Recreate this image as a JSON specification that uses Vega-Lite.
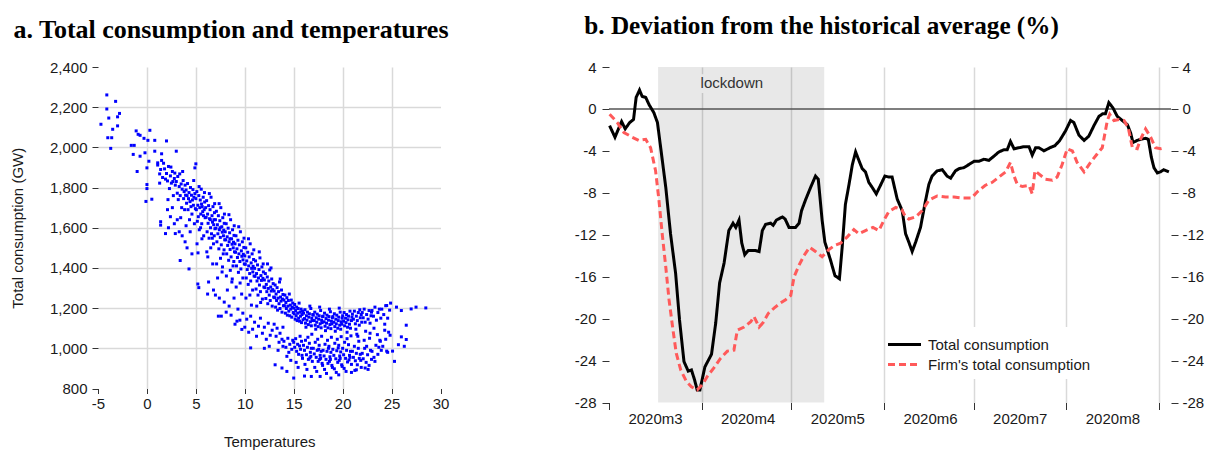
{
  "$schema": "https://vega.github.io/schema/vega-lite/v6.json",
  "background": "white",
  "padding": {"left": 10, "top": 13, "right": 0, "bottom": 0},
  "autosize": {"type": "pad"},
  "bounds": "flush",
  "spacing": 168,
  "config": {
    "view": {"stroke": null},
    "font": "Liberation Sans",
    "axis": {"labelFont": "Liberation Sans", "titleFont": "Liberation Sans", "labelFontSize": 15, "titleFontSize": 15, "titleFontWeight": "normal", "labelColor": "#1a1a1a", "titleColor": "#1a1a1a", "domain": false, "tickColor": "#333333", "tickWidth": 1, "gridColor": "#d9d9d9", "gridWidth": 1.5, "labelFlush": false, "labelOverlap": false, "labelBound": false},
    "title": {"font": "Liberation Serif", "fontWeight": "bold", "color": "#000000", "anchor": "start", "frame": "bounds", "baseline": "alphabetic"},
    "legend": {"labelFont": "Liberation Sans", "labelFontSize": 15, "labelColor": "#1a1a1a", "labelLimit": 400}
  },
  "datasets": {
    "scatter": [
      {"temp":-4.1,"gw":2261},{"temp":-3.2,"gw":2229},{"temp":-4.1,"gw":2191},{"temp":-3.9,"gw":2146},{"temp":-3.0,"gw":2152},{"temp":-2.8,"gw":2169},{"temp":-4.7,"gw":2115},{"temp":-3.5,"gw":2090},{"temp":-3.0,"gw":2107},{"temp":-4.0,"gw":2048},{"temp":-3.6,"gw":2048},{"temp":-3.7,"gw":1995},
      {"temp":-1.6,"gw":2010},{"temp":-1.3,"gw":2010},{"temp":-1.1,"gw":2082},{"temp":-0.9,"gw":2065},{"temp":-0.7,"gw":2060},{"temp":0.3,"gw":2085},{"temp":-0.3,"gw":2045},{"temp":0.1,"gw":2035},{"temp":0.8,"gw":2035},{"temp":-1.4,"gw":1965},{"temp":-0.2,"gw":1973},{"temp":-0.7,"gw":1956},{"temp":-1.0,"gw":1880},{"temp":0.0,"gw":1898},{"temp":0.2,"gw":1931},{"temp":0.0,"gw":1815},{"temp":0.0,"gw":1795},{"temp":-0.1,"gw":1731},{"temp":0.5,"gw":1742},{"temp":0.8,"gw":1981},{"temp":2.0,"gw":2032},{"temp":3.0,"gw":1981},{"temp":1.5,"gw":1968},{"temp":1.1,"gw":1923},{"temp":1.3,"gw":1822},{"temp":1.4,"gw":1630},{"temp":1.4,"gw":1613},{"temp":1.9,"gw":1571},{"temp":2.9,"gw":1571},{"temp":3.4,"gw":1437},{"temp":5.0,"gw":1918},{"temp":4.9,"gw":1898},{"temp":5.2,"gw":1320},{"temp":5.3,"gw":1302},{"temp":4.3,"gw":1395},{"temp":6.2,"gw":1270},{"temp":7.3,"gw":1160},{"temp":9.0,"gw":1120},{"temp":9.7,"gw":1094},{"temp":10.6,"gw":1002},{"temp":13.1,"gw":918},{"temp":13.8,"gw":902},{"temp":14.3,"gw":885},{"temp":15.0,"gw":852},{"temp":16.1,"gw":862},{"temp":16.8,"gw":860},{"temp":17.7,"gw":860},{"temp":18.8,"gw":852},{"temp":19.6,"gw":868},{"temp":20.9,"gw":880},{"temp":21.4,"gw":893},{"temp":22.3,"gw":902},{"temp":26.5,"gw":1044},{"temp":26.3,"gw":1010},{"temp":25.7,"gw":1018},{"temp":25.3,"gw":935},{"temp":25.1,"gw":986},{"temp":24.5,"gw":986},{"temp":27.0,"gw":1196},{"temp":27.5,"gw":1205},{"temp":28.5,"gw":1201},{"temp":26.5,"gw":1115},{"temp":26.0,"gw":1057},{"temp":25.5,"gw":1205},{"temp":24.5,"gw":1213},{"temp":26.0,"gw":1188},
      {"temp":2.1,"gw":1690},{"temp":2.4,"gw":1655},{"temp":2.8,"gw":1620},{"temp":2.2,"gw":1600},{"temp":2.6,"gw":1700},{"temp":3.1,"gw":1640},{"temp":3.3,"gw":1580},{"temp":3.6,"gw":1560},{"temp":3.9,"gw":1530},{"temp":4.1,"gw":1500},{"temp":4.6,"gw":1470},{"temp":4.0,"gw":1610},
      {"temp":6.3,"gw":1330},{"temp":6.8,"gw":1290},{"temp":7.0,"gw":1265},{"temp":7.4,"gw":1250},{"temp":7.6,"gw":1160},{"temp":7.9,"gw":1230},{"temp":8.1,"gw":1180},{"temp":8.4,"gw":1210},{"temp":8.6,"gw":1165},{"temp":8.9,"gw":1250},{"temp":9.2,"gw":1135},{"temp":9.3,"gw":1195},{"temp":9.5,"gw":1140},{"temp":9.8,"gw":1175},{"temp":10.0,"gw":1105},{"temp":10.2,"gw":1145},{"temp":10.4,"gw":1080},{"temp":10.6,"gw":1160},{"temp":10.8,"gw":1095},{"temp":11.0,"gw":1130},{"temp":11.2,"gw":1060},{"temp":11.4,"gw":1110},{"temp":11.6,"gw":1150},{"temp":11.8,"gw":1075},{"temp":12.0,"gw":1105},{"temp":12.2,"gw":1045},{"temp":12.4,"gw":1125},{"temp":12.6,"gw":1065},{"temp":12.8,"gw":1090},{"temp":13.0,"gw":1120},{"temp":13.3,"gw":1100},{"temp":13.6,"gw":1075},{"temp":13.9,"gw":1105},{"temp":12.0,"gw":1000},{"temp":12.5,"gw":1010},
      {"temp":1.1,"gw":1912},{"temp":1.3,"gw":1868},{"temp":1.5,"gw":1935},{"temp":1.6,"gw":1850},{"temp":1.8,"gw":1893},{"temp":1.9,"gw":1842},{"temp":1.4,"gw":1890},{"temp":1.7,"gw":1921},
      {"temp":2.0,"gw":1870},{"temp":2.1,"gw":1833},{"temp":2.2,"gw":1905},{"temp":2.3,"gw":1795},{"temp":2.4,"gw":1858},{"temp":2.5,"gw":1822},{"temp":2.6,"gw":1880},{"temp":2.7,"gw":1760},{"temp":2.8,"gw":1845},{"temp":2.9,"gw":1812},{"temp":2.15,"gw":1740},{"temp":2.45,"gw":1902},{"temp":2.65,"gw":1830},{"temp":2.85,"gw":1872},
      {"temp":3.0,"gw":1830},{"temp":3.1,"gw":1772},{"temp":3.15,"gw":1855},{"temp":3.2,"gw":1740},{"temp":3.3,"gw":1805},{"temp":3.35,"gw":1868},{"temp":3.4,"gw":1760},{"temp":3.5,"gw":1818},{"temp":3.55,"gw":1700},{"temp":3.6,"gw":1792},{"temp":3.7,"gw":1835},{"temp":3.75,"gw":1745},{"temp":3.8,"gw":1780},{"temp":3.85,"gw":1690},{"temp":3.9,"gw":1812},{"temp":3.95,"gw":1762},{"temp":3.45,"gw":1650},{"temp":3.65,"gw":1880},
      {"temp":4.0,"gw":1788},{"temp":4.05,"gw":1722},{"temp":4.1,"gw":1760},{"temp":4.15,"gw":1820},{"temp":4.2,"gw":1690},{"temp":4.25,"gw":1745},{"temp":4.3,"gw":1775},{"temp":4.35,"gw":1640},{"temp":4.4,"gw":1730},{"temp":4.45,"gw":1800},{"temp":4.5,"gw":1705},{"temp":4.55,"gw":1762},{"temp":4.6,"gw":1668},{"temp":4.65,"gw":1738},{"temp":4.7,"gw":1790},{"temp":4.75,"gw":1712},{"temp":4.8,"gw":1752},{"temp":4.85,"gw":1620},{"temp":4.9,"gw":1770},{"temp":4.95,"gw":1695},{"temp":4.42,"gw":1580},{"temp":4.78,"gw":1835},
      {"temp":5.0,"gw":1745},{"temp":5.05,"gw":1690},{"temp":5.1,"gw":1780},{"temp":5.15,"gw":1632},{"temp":5.2,"gw":1712},{"temp":5.25,"gw":1655},{"temp":5.3,"gw":1760},{"temp":5.35,"gw":1590},{"temp":5.4,"gw":1700},{"temp":5.45,"gw":1738},{"temp":5.5,"gw":1668},{"temp":5.55,"gw":1792},{"temp":5.6,"gw":1620},{"temp":5.65,"gw":1705},{"temp":5.7,"gw":1680},{"temp":5.75,"gw":1752},{"temp":5.8,"gw":1560},{"temp":5.85,"gw":1690},{"temp":5.9,"gw":1728},{"temp":5.95,"gw":1650},{"temp":5.12,"gw":1520},{"temp":5.33,"gw":1805},{"temp":5.48,"gw":1600},{"temp":5.62,"gw":1545},{"temp":5.78,"gw":1660},{"temp":5.88,"gw":1775},{"temp":5.22,"gw":1475},{"temp":5.58,"gw":1718},
      {"temp":6.0,"gw":1700},{"temp":6.05,"gw":1652},{"temp":6.1,"gw":1735},{"temp":6.15,"gw":1580},{"temp":6.2,"gw":1668},{"temp":6.25,"gw":1622},{"temp":6.3,"gw":1710},{"temp":6.35,"gw":1548},{"temp":6.4,"gw":1645},{"temp":6.45,"gw":1690},{"temp":6.5,"gw":1600},{"temp":6.55,"gw":1752},{"temp":6.6,"gw":1570},{"temp":6.65,"gw":1660},{"temp":6.7,"gw":1628},{"temp":6.75,"gw":1705},{"temp":6.8,"gw":1520},{"temp":6.85,"gw":1640},{"temp":6.9,"gw":1675},{"temp":6.95,"gw":1595},{"temp":6.12,"gw":1480},{"temp":6.38,"gw":1770},{"temp":6.52,"gw":1500},{"temp":6.68,"gw":1548},{"temp":6.82,"gw":1615},{"temp":6.92,"gw":1720},{"temp":6.22,"gw":1455},{"temp":6.48,"gw":1640},{"temp":6.72,"gw":1420},{"temp":6.88,"gw":1560},
      {"temp":7.0,"gw":1640},{"temp":7.05,"gw":1598},{"temp":7.1,"gw":1682},{"temp":7.15,"gw":1530},{"temp":7.2,"gw":1615},{"temp":7.25,"gw":1570},{"temp":7.3,"gw":1660},{"temp":7.35,"gw":1495},{"temp":7.4,"gw":1590},{"temp":7.45,"gw":1635},{"temp":7.5,"gw":1552},{"temp":7.55,"gw":1700},{"temp":7.6,"gw":1515},{"temp":7.65,"gw":1605},{"temp":7.7,"gw":1578},{"temp":7.75,"gw":1650},{"temp":7.8,"gw":1470},{"temp":7.85,"gw":1588},{"temp":7.9,"gw":1622},{"temp":7.95,"gw":1540},{"temp":7.12,"gw":1420},{"temp":7.38,"gw":1720},{"temp":7.52,"gw":1448},{"temp":7.68,"gw":1380},{"temp":7.82,"gw":1560},{"temp":7.92,"gw":1668},{"temp":7.22,"gw":1350},{"temp":7.48,"gw":1600},{"temp":7.72,"gw":1405},{"temp":7.88,"gw":1490},
      {"temp":8.0,"gw":1580},{"temp":8.05,"gw":1540},{"temp":8.1,"gw":1620},{"temp":8.15,"gw":1470},{"temp":8.2,"gw":1555},{"temp":8.25,"gw":1512},{"temp":8.3,"gw":1598},{"temp":8.35,"gw":1438},{"temp":8.4,"gw":1530},{"temp":8.45,"gw":1575},{"temp":8.5,"gw":1492},{"temp":8.55,"gw":1640},{"temp":8.6,"gw":1455},{"temp":8.65,"gw":1545},{"temp":8.7,"gw":1518},{"temp":8.75,"gw":1590},{"temp":8.8,"gw":1410},{"temp":8.85,"gw":1528},{"temp":8.9,"gw":1562},{"temp":8.95,"gw":1480},{"temp":8.12,"gw":1360},{"temp":8.38,"gw":1665},{"temp":8.52,"gw":1388},{"temp":8.68,"gw":1330},{"temp":8.82,"gw":1500},{"temp":8.92,"gw":1610},{"temp":8.22,"gw":1290},{"temp":8.48,"gw":1545},{"temp":8.72,"gw":1345},{"temp":8.88,"gw":1432},
      {"temp":9.0,"gw":1520},{"temp":9.05,"gw":1478},{"temp":9.1,"gw":1560},{"temp":9.15,"gw":1410},{"temp":9.2,"gw":1495},{"temp":9.25,"gw":1452},{"temp":9.3,"gw":1538},{"temp":9.35,"gw":1378},{"temp":9.4,"gw":1470},{"temp":9.45,"gw":1515},{"temp":9.5,"gw":1432},{"temp":9.55,"gw":1580},{"temp":9.6,"gw":1395},{"temp":9.65,"gw":1485},{"temp":9.7,"gw":1458},{"temp":9.75,"gw":1530},{"temp":9.8,"gw":1350},{"temp":9.85,"gw":1468},{"temp":9.9,"gw":1502},{"temp":9.95,"gw":1420},{"temp":9.12,"gw":1305},{"temp":9.38,"gw":1605},{"temp":9.52,"gw":1325},{"temp":9.68,"gw":1270},{"temp":9.82,"gw":1440},{"temp":9.92,"gw":1548},
      {"temp":10.0,"gw":1460},{"temp":10.05,"gw":1418},{"temp":10.1,"gw":1500},{"temp":10.15,"gw":1350},{"temp":10.2,"gw":1435},{"temp":10.25,"gw":1392},{"temp":10.3,"gw":1478},{"temp":10.35,"gw":1318},{"temp":10.4,"gw":1410},{"temp":10.45,"gw":1455},{"temp":10.5,"gw":1372},{"temp":10.55,"gw":1520},{"temp":10.6,"gw":1335},{"temp":10.65,"gw":1425},{"temp":10.7,"gw":1398},{"temp":10.75,"gw":1470},{"temp":10.8,"gw":1290},{"temp":10.85,"gw":1408},{"temp":10.9,"gw":1442},{"temp":10.95,"gw":1360},{"temp":10.12,"gw":1250},{"temp":10.38,"gw":1545},{"temp":10.52,"gw":1265},{"temp":10.68,"gw":1215},{"temp":10.82,"gw":1380},{"temp":10.92,"gw":1490},
      {"temp":11.0,"gw":1398},{"temp":11.05,"gw":1358},{"temp":11.1,"gw":1435},{"temp":11.15,"gw":1295},{"temp":11.2,"gw":1372},{"temp":11.25,"gw":1335},{"temp":11.3,"gw":1415},{"temp":11.35,"gw":1265},{"temp":11.4,"gw":1350},{"temp":11.45,"gw":1392},{"temp":11.5,"gw":1315},{"temp":11.55,"gw":1450},{"temp":11.6,"gw":1282},{"temp":11.65,"gw":1362},{"temp":11.7,"gw":1338},{"temp":11.75,"gw":1405},{"temp":11.8,"gw":1245},{"temp":11.85,"gw":1348},{"temp":11.9,"gw":1380},{"temp":11.95,"gw":1305},{"temp":11.22,"gw":1210},{"temp":11.48,"gw":1480},{"temp":11.62,"gw":1228},{"temp":11.88,"gw":1420},
      {"temp":12.0,"gw":1340},{"temp":12.05,"gw":1302},{"temp":12.1,"gw":1372},{"temp":12.15,"gw":1248},{"temp":12.2,"gw":1318},{"temp":12.25,"gw":1282},{"temp":12.3,"gw":1355},{"temp":12.35,"gw":1222},{"temp":12.4,"gw":1298},{"temp":12.45,"gw":1335},{"temp":12.5,"gw":1265},{"temp":12.55,"gw":1390},{"temp":12.6,"gw":1238},{"temp":12.65,"gw":1305},{"temp":12.7,"gw":1285},{"temp":12.75,"gw":1345},{"temp":12.8,"gw":1210},{"temp":12.85,"gw":1292},{"temp":12.9,"gw":1322},{"temp":12.95,"gw":1255},{"temp":12.32,"gw":1420},{"temp":12.68,"gw":1400},
      {"temp":13.0,"gw":1285},{"temp":13.05,"gw":1252},{"temp":13.1,"gw":1315},{"temp":13.15,"gw":1205},{"temp":13.2,"gw":1270},{"temp":13.25,"gw":1238},{"temp":13.3,"gw":1302},{"temp":13.35,"gw":1190},{"temp":13.4,"gw":1250},{"temp":13.45,"gw":1282},{"temp":13.5,"gw":1222},{"temp":13.55,"gw":1330},{"temp":13.6,"gw":1198},{"temp":13.65,"gw":1255},{"temp":13.7,"gw":1235},{"temp":13.75,"gw":1290},{"temp":13.8,"gw":1180},{"temp":13.85,"gw":1245},{"temp":13.9,"gw":1268},{"temp":13.95,"gw":1212},{"temp":13.62,"gw":1345},
      {"temp":14.0,"gw":1240},{"temp":14.05,"gw":1212},{"temp":14.1,"gw":1265},{"temp":14.15,"gw":1175},{"temp":14.2,"gw":1228},{"temp":14.25,"gw":1198},{"temp":14.3,"gw":1252},{"temp":14.35,"gw":1165},{"temp":14.4,"gw":1210},{"temp":14.45,"gw":1238},{"temp":14.5,"gw":1185},{"temp":14.55,"gw":1270},{"temp":14.6,"gw":1162},{"temp":14.65,"gw":1215},{"temp":14.7,"gw":1195},{"temp":14.75,"gw":1240},{"temp":14.8,"gw":1155},{"temp":14.85,"gw":1205},{"temp":14.9,"gw":1225},{"temp":14.95,"gw":1178},
      {"temp":15.0,"gw":1200},{"temp":15.05,"gw":1172},{"temp":15.1,"gw":1218},{"temp":15.15,"gw":1145},{"temp":15.2,"gw":1188},{"temp":15.25,"gw":1162},{"temp":15.3,"gw":1205},{"temp":15.35,"gw":1138},{"temp":15.4,"gw":1175},{"temp":15.45,"gw":1198},{"temp":15.5,"gw":1150},{"temp":15.55,"gw":1225},{"temp":15.6,"gw":1135},{"temp":15.65,"gw":1180},{"temp":15.7,"gw":1160},{"temp":15.75,"gw":1195},{"temp":15.8,"gw":1128},{"temp":15.85,"gw":1168},{"temp":15.9,"gw":1185},{"temp":15.95,"gw":1142},
      {"temp":16.0,"gw":1175},{"temp":16.1,"gw":1148},{"temp":16.15,"gw":1192},{"temp":16.2,"gw":1125},{"temp":16.3,"gw":1162},{"temp":16.35,"gw":1140},{"temp":16.4,"gw":1180},{"temp":16.5,"gw":1118},{"temp":16.55,"gw":1155},{"temp":16.6,"gw":1172},{"temp":16.7,"gw":1132},{"temp":16.75,"gw":1198},{"temp":16.8,"gw":1112},{"temp":16.85,"gw":1150},{"temp":16.9,"gw":1138},{"temp":16.95,"gw":1168},{"temp":16.25,"gw":1105},{"temp":16.65,"gw":1210},
      {"temp":17.0,"gw":1165},{"temp":17.1,"gw":1138},{"temp":17.15,"gw":1180},{"temp":17.2,"gw":1115},{"temp":17.3,"gw":1152},{"temp":17.35,"gw":1130},{"temp":17.4,"gw":1170},{"temp":17.5,"gw":1108},{"temp":17.55,"gw":1145},{"temp":17.6,"gw":1162},{"temp":17.7,"gw":1122},{"temp":17.75,"gw":1188},{"temp":17.8,"gw":1102},{"temp":17.85,"gw":1140},{"temp":17.9,"gw":1128},{"temp":17.95,"gw":1158},{"temp":17.25,"gw":1095},{"temp":17.65,"gw":1205},
      {"temp":18.0,"gw":1160},{"temp":18.1,"gw":1132},{"temp":18.15,"gw":1175},{"temp":18.2,"gw":1110},{"temp":18.3,"gw":1148},{"temp":18.35,"gw":1125},{"temp":18.4,"gw":1165},{"temp":18.5,"gw":1102},{"temp":18.55,"gw":1140},{"temp":18.6,"gw":1158},{"temp":18.7,"gw":1118},{"temp":18.75,"gw":1182},{"temp":18.8,"gw":1098},{"temp":18.85,"gw":1135},{"temp":18.9,"gw":1122},{"temp":18.95,"gw":1152},{"temp":18.25,"gw":1088},{"temp":18.65,"gw":1195},
      {"temp":19.0,"gw":1158},{"temp":19.1,"gw":1130},{"temp":19.15,"gw":1172},{"temp":19.2,"gw":1108},{"temp":19.3,"gw":1145},{"temp":19.35,"gw":1122},{"temp":19.4,"gw":1165},{"temp":19.5,"gw":1100},{"temp":19.55,"gw":1138},{"temp":19.6,"gw":1155},{"temp":19.7,"gw":1115},{"temp":19.75,"gw":1180},{"temp":19.8,"gw":1095},{"temp":19.85,"gw":1132},{"temp":19.9,"gw":1120},{"temp":19.95,"gw":1150},{"temp":19.25,"gw":1085},{"temp":19.65,"gw":1200},
      {"temp":20.0,"gw":1162},{"temp":20.1,"gw":1135},{"temp":20.15,"gw":1178},{"temp":20.2,"gw":1112},{"temp":20.3,"gw":1150},{"temp":20.35,"gw":1128},{"temp":20.4,"gw":1168},{"temp":20.5,"gw":1105},{"temp":20.55,"gw":1142},{"temp":20.6,"gw":1160},{"temp":20.7,"gw":1120},{"temp":20.75,"gw":1185},{"temp":20.8,"gw":1100},{"temp":20.9,"gw":1138},{"temp":20.95,"gw":1155},{"temp":20.45,"gw":1080},
      {"temp":21.0,"gw":1170},{"temp":21.1,"gw":1145},{"temp":21.2,"gw":1185},{"temp":21.3,"gw":1122},{"temp":21.4,"gw":1160},{"temp":21.5,"gw":1138},{"temp":21.6,"gw":1178},{"temp":21.7,"gw":1115},{"temp":21.8,"gw":1152},{"temp":21.9,"gw":1168},{"temp":21.35,"gw":1095},{"temp":21.75,"gw":1192},{"temp":21.55,"gw":1060},{"temp":21.95,"gw":1130},
      {"temp":22.0,"gw":1178},{"temp":22.1,"gw":1152},{"temp":22.2,"gw":1195},{"temp":22.3,"gw":1130},{"temp":22.45,"gw":1168},{"temp":22.6,"gw":1145},{"temp":22.7,"gw":1188},{"temp":22.8,"gw":1125},{"temp":22.9,"gw":1162},{"temp":22.95,"gw":1180},{"temp":22.35,"gw":1085},{"temp":22.75,"gw":1050},
      {"temp":23.0,"gw":1188},{"temp":23.15,"gw":1160},{"temp":23.3,"gw":1205},{"temp":23.45,"gw":1140},{"temp":23.6,"gw":1178},{"temp":23.75,"gw":1195},{"temp":23.9,"gw":1150},{"temp":23.2,"gw":1100},{"temp":23.55,"gw":1068},{"temp":23.85,"gw":1035},
      {"temp":24.0,"gw":1195},{"temp":24.2,"gw":1168},{"temp":24.4,"gw":1212},{"temp":24.6,"gw":1150},{"temp":24.8,"gw":1190},{"temp":24.3,"gw":1120},{"temp":24.7,"gw":1080},{"temp":24.9,"gw":1225},
      {"temp":13.2,"gw":1060},{"temp":13.5,"gw":1030},{"temp":13.8,"gw":1045},{"temp":13.4,"gw":990},{"temp":13.9,"gw":1010},
      {"temp":14.0,"gw":1035},{"temp":14.2,"gw":1005},{"temp":14.4,"gw":1050},{"temp":14.5,"gw":980},{"temp":14.6,"gw":1020},{"temp":14.8,"gw":995},{"temp":14.9,"gw":1040},{"temp":14.3,"gw":960},{"temp":14.7,"gw":940},
      {"temp":15.0,"gw":1030},{"temp":15.1,"gw":1005},{"temp":15.2,"gw":1048},{"temp":15.3,"gw":985},{"temp":15.4,"gw":1020},{"temp":15.5,"gw":970},{"temp":15.6,"gw":1012},{"temp":15.7,"gw":995},{"temp":15.8,"gw":1035},{"temp":15.9,"gw":950},{"temp":15.25,"gw":930},{"temp":15.65,"gw":1060},{"temp":15.45,"gw":905},{"temp":15.85,"gw":965},
      {"temp":16.0,"gw":1015},{"temp":16.1,"gw":990},{"temp":16.2,"gw":1040},{"temp":16.3,"gw":968},{"temp":16.4,"gw":1005},{"temp":16.5,"gw":945},{"temp":16.6,"gw":1025},{"temp":16.7,"gw":980},{"temp":16.8,"gw":1000},{"temp":16.9,"gw":935},{"temp":16.15,"gw":920},{"temp":16.45,"gw":1055},{"temp":16.65,"gw":952},{"temp":16.85,"gw":1070},{"temp":16.35,"gw":895},{"temp":16.75,"gw":960},
      {"temp":17.0,"gw":1000},{"temp":17.1,"gw":972},{"temp":17.2,"gw":1030},{"temp":17.3,"gw":955},{"temp":17.4,"gw":990},{"temp":17.5,"gw":935},{"temp":17.6,"gw":1015},{"temp":17.7,"gw":965},{"temp":17.8,"gw":985},{"temp":17.9,"gw":925},{"temp":17.15,"gw":905},{"temp":17.45,"gw":1045},{"temp":17.65,"gw":945},{"temp":17.85,"gw":1060},{"temp":17.35,"gw":885},{"temp":17.75,"gw":950},{"temp":17.55,"gw":995},{"temp":17.95,"gw":915},
      {"temp":18.0,"gw":990},{"temp":18.1,"gw":962},{"temp":18.2,"gw":1020},{"temp":18.3,"gw":945},{"temp":18.4,"gw":985},{"temp":18.5,"gw":925},{"temp":18.6,"gw":1010},{"temp":18.7,"gw":958},{"temp":18.8,"gw":980},{"temp":18.9,"gw":915},{"temp":18.15,"gw":895},{"temp":18.45,"gw":1040},{"temp":18.65,"gw":935},{"temp":18.85,"gw":1055},{"temp":18.35,"gw":875},{"temp":18.75,"gw":945},{"temp":18.55,"gw":1000},{"temp":18.95,"gw":905},
      {"temp":19.0,"gw":995},{"temp":19.1,"gw":965},{"temp":19.2,"gw":1025},{"temp":19.3,"gw":948},{"temp":19.4,"gw":988},{"temp":19.5,"gw":930},{"temp":19.6,"gw":1015},{"temp":19.7,"gw":962},{"temp":19.8,"gw":982},{"temp":19.9,"gw":918},{"temp":19.15,"gw":898},{"temp":19.45,"gw":1045},{"temp":19.65,"gw":940},{"temp":19.85,"gw":1058},{"temp":19.35,"gw":880},{"temp":19.75,"gw":950},{"temp":19.55,"gw":1002},{"temp":19.95,"gw":910},
      {"temp":20.0,"gw":1000},{"temp":20.1,"gw":968},{"temp":20.2,"gw":1030},{"temp":20.3,"gw":950},{"temp":20.4,"gw":990},{"temp":20.5,"gw":932},{"temp":20.6,"gw":1018},{"temp":20.7,"gw":965},{"temp":20.8,"gw":985},{"temp":20.9,"gw":920},{"temp":20.15,"gw":900},{"temp":20.45,"gw":1048},{"temp":20.65,"gw":942},{"temp":20.85,"gw":1062},{"temp":20.35,"gw":885},{"temp":20.75,"gw":955},
      {"temp":21.0,"gw":985},{"temp":21.1,"gw":955},{"temp":21.2,"gw":1010},{"temp":21.3,"gw":938},{"temp":21.4,"gw":975},{"temp":21.5,"gw":918},{"temp":21.6,"gw":1000},{"temp":21.7,"gw":950},{"temp":21.8,"gw":970},{"temp":21.9,"gw":905},{"temp":21.25,"gw":890},{"temp":21.65,"gw":1035},{"temp":21.45,"gw":1070},{"temp":21.85,"gw":940},
      {"temp":22.0,"gw":975},{"temp":22.1,"gw":948},{"temp":22.25,"gw":1000},{"temp":22.4,"gw":930},{"temp":22.55,"gw":968},{"temp":22.7,"gw":915},{"temp":22.85,"gw":990},{"temp":22.95,"gw":945},{"temp":22.2,"gw":1040},{"temp":22.6,"gw":895},{"temp":22.8,"gw":1075},{"temp":22.45,"gw":1010},
      {"temp":23.0,"gw":985},{"temp":23.2,"gw":955},{"temp":23.4,"gw":1015},{"temp":23.6,"gw":970},{"temp":23.8,"gw":1040},{"temp":23.3,"gw":935},{"temp":23.7,"gw":1005},{"temp":23.95,"gw":990},
      {"temp":24.1,"gw":1010},{"temp":24.4,"gw":1045},{"temp":24.6,"gw":980},{"temp":24.85,"gw":1065},{"temp":24.3,"gw":1090}
    ],
    "lines": [
      {"date":"2020-03-01T05:00Z","series":"Total consumption","value":-1.6},
      {"date":"2020-03-03T00:00Z","series":"Total consumption","value":-2.7},
      {"date":"2020-03-05T05:00Z","series":"Total consumption","value":-1.2},
      {"date":"2020-03-06T10:00Z","series":"Total consumption","value":-1.9},
      {"date":"2020-03-07T22:00Z","series":"Total consumption","value":-1.3},
      {"date":"2020-03-09T05:00Z","series":"Total consumption","value":-1.0},
      {"date":"2020-03-10T02:00Z","series":"Total consumption","value":1.1},
      {"date":"2020-03-11T05:00Z","series":"Total consumption","value":1.8},
      {"date":"2020-03-12T02:00Z","series":"Total consumption","value":1.2},
      {"date":"2020-03-13T07:00Z","series":"Total consumption","value":1.1},
      {"date":"2020-03-14T10:00Z","series":"Total consumption","value":0.4},
      {"date":"2020-03-16T00:00Z","series":"Total consumption","value":-0.35},
      {"date":"2020-03-17T05:00Z","series":"Total consumption","value":-1.3},
      {"date":"2020-03-18T07:00Z","series":"Total consumption","value":-3.7},
      {"date":"2020-03-20T00:00Z","series":"Total consumption","value":-7.5},
      {"date":"2020-03-21T14:00Z","series":"Total consumption","value":-11.9},
      {"date":"2020-03-23T07:00Z","series":"Total consumption","value":-15.7},
      {"date":"2020-03-24T14:00Z","series":"Total consumption","value":-20.1},
      {"date":"2020-03-26T02:00Z","series":"Total consumption","value":-24.1},
      {"date":"2020-03-27T12:00Z","series":"Total consumption","value":-25.0},
      {"date":"2020-03-28T14:00Z","series":"Total consumption","value":-24.9},
      {"date":"2020-03-29T14:00Z","series":"Total consumption","value":-25.8},
      {"date":"2020-03-30T12:00Z","series":"Total consumption","value":-26.8},
      {"date":"2020-03-31T10:00Z","series":"Total consumption","value":-26.8},
      {"date":"2020-04-02T02:00Z","series":"Total consumption","value":-24.6},
      {"date":"2020-04-04T07:00Z","series":"Total consumption","value":-23.4},
      {"date":"2020-04-05T17:00Z","series":"Total consumption","value":-20.4},
      {"date":"2020-04-07T00:00Z","series":"Total consumption","value":-16.6},
      {"date":"2020-04-08T12:00Z","series":"Total consumption","value":-14.7},
      {"date":"2020-04-10T02:00Z","series":"Total consumption","value":-11.6},
      {"date":"2020-04-11T12:00Z","series":"Total consumption","value":-10.9},
      {"date":"2020-04-12T10:00Z","series":"Total consumption","value":-11.3},
      {"date":"2020-04-13T12:00Z","series":"Total consumption","value":-10.6},
      {"date":"2020-04-14T10:00Z","series":"Total consumption","value":-12.8},
      {"date":"2020-04-15T10:00Z","series":"Total consumption","value":-13.9},
      {"date":"2020-04-16T14:00Z","series":"Total consumption","value":-13.5},
      {"date":"2020-04-19T00:00Z","series":"Total consumption","value":-13.5},
      {"date":"2020-04-20T05:00Z","series":"Total consumption","value":-13.6},
      {"date":"2020-04-21T07:00Z","series":"Total consumption","value":-11.6},
      {"date":"2020-04-22T10:00Z","series":"Total consumption","value":-11.0},
      {"date":"2020-04-24T02:00Z","series":"Total consumption","value":-10.9},
      {"date":"2020-04-24T22:00Z","series":"Total consumption","value":-11.1},
      {"date":"2020-04-26T00:00Z","series":"Total consumption","value":-10.6},
      {"date":"2020-04-28T00:00Z","series":"Total consumption","value":-10.3},
      {"date":"2020-04-28T22:00Z","series":"Total consumption","value":-10.5},
      {"date":"2020-04-30T05:00Z","series":"Total consumption","value":-11.3},
      {"date":"2020-05-02T10:00Z","series":"Total consumption","value":-11.3},
      {"date":"2020-05-03T14:00Z","series":"Total consumption","value":-10.9},
      {"date":"2020-05-04T10:00Z","series":"Total consumption","value":-9.7},
      {"date":"2020-05-05T17:00Z","series":"Total consumption","value":-8.7},
      {"date":"2020-05-07T10:00Z","series":"Total consumption","value":-7.5},
      {"date":"2020-05-09T02:00Z","series":"Total consumption","value":-6.4},
      {"date":"2020-05-10T00:00Z","series":"Total consumption","value":-6.7},
      {"date":"2020-05-11T07:00Z","series":"Total consumption","value":-10.6},
      {"date":"2020-05-12T05:00Z","series":"Total consumption","value":-12.7},
      {"date":"2020-05-14T02:00Z","series":"Total consumption","value":-14.4},
      {"date":"2020-05-15T14:00Z","series":"Total consumption","value":-15.9},
      {"date":"2020-05-17T02:00Z","series":"Total consumption","value":-16.2},
      {"date":"2020-05-18T00:00Z","series":"Total consumption","value":-13.2},
      {"date":"2020-05-19T02:00Z","series":"Total consumption","value":-9.1},
      {"date":"2020-05-20T07:00Z","series":"Total consumption","value":-7.2},
      {"date":"2020-05-21T10:00Z","series":"Total consumption","value":-5.3},
      {"date":"2020-05-22T12:00Z","series":"Total consumption","value":-4.1},
      {"date":"2020-05-23T14:00Z","series":"Total consumption","value":-4.9},
      {"date":"2020-05-24T17:00Z","series":"Total consumption","value":-5.7},
      {"date":"2020-05-25T19:00Z","series":"Total consumption","value":-6.0},
      {"date":"2020-05-26T22:00Z","series":"Total consumption","value":-7.0},
      {"date":"2020-05-28T02:00Z","series":"Total consumption","value":-7.5},
      {"date":"2020-05-29T10:00Z","series":"Total consumption","value":-8.1},
      {"date":"2020-05-30T19:00Z","series":"Total consumption","value":-7.3},
      {"date":"2020-06-01T07:00Z","series":"Total consumption","value":-6.4},
      {"date":"2020-06-02T14:00Z","series":"Total consumption","value":-6.5},
      {"date":"2020-06-03T17:00Z","series":"Total consumption","value":-6.5},
      {"date":"2020-06-05T10:00Z","series":"Total consumption","value":-8.6},
      {"date":"2020-06-07T02:00Z","series":"Total consumption","value":-9.7},
      {"date":"2020-06-08T05:00Z","series":"Total consumption","value":-11.9},
      {"date":"2020-06-09T07:00Z","series":"Total consumption","value":-12.7},
      {"date":"2020-06-10T10:00Z","series":"Total consumption","value":-13.6},
      {"date":"2020-06-11T14:00Z","series":"Total consumption","value":-12.7},
      {"date":"2020-06-13T05:00Z","series":"Total consumption","value":-11.3},
      {"date":"2020-06-14T22:00Z","series":"Total consumption","value":-8.7},
      {"date":"2020-06-16T00:00Z","series":"Total consumption","value":-7.2},
      {"date":"2020-06-17T02:00Z","series":"Total consumption","value":-6.4},
      {"date":"2020-06-18T19:00Z","series":"Total consumption","value":-5.9},
      {"date":"2020-06-20T12:00Z","series":"Total consumption","value":-5.8},
      {"date":"2020-06-22T02:00Z","series":"Total consumption","value":-6.4},
      {"date":"2020-06-23T07:00Z","series":"Total consumption","value":-6.6},
      {"date":"2020-06-24T22:00Z","series":"Total consumption","value":-5.9},
      {"date":"2020-06-26T02:00Z","series":"Total consumption","value":-5.7},
      {"date":"2020-06-27T17:00Z","series":"Total consumption","value":-5.6},
      {"date":"2020-06-29T10:00Z","series":"Total consumption","value":-5.3},
      {"date":"2020-07-01T02:00Z","series":"Total consumption","value":-5.0},
      {"date":"2020-07-02T17:00Z","series":"Total consumption","value":-5.0},
      {"date":"2020-07-04T10:00Z","series":"Total consumption","value":-4.8},
      {"date":"2020-07-06T02:00Z","series":"Total consumption","value":-4.9},
      {"date":"2020-07-07T19:00Z","series":"Total consumption","value":-4.5},
      {"date":"2020-07-09T10:00Z","series":"Total consumption","value":-4.1},
      {"date":"2020-07-11T02:00Z","series":"Total consumption","value":-3.9},
      {"date":"2020-07-12T05:00Z","series":"Total consumption","value":-3.9},
      {"date":"2020-07-13T07:00Z","series":"Total consumption","value":-3.1},
      {"date":"2020-07-14T12:00Z","series":"Total consumption","value":-3.8},
      {"date":"2020-07-16T02:00Z","series":"Total consumption","value":-3.7},
      {"date":"2020-07-17T19:00Z","series":"Total consumption","value":-3.6},
      {"date":"2020-07-19T12:00Z","series":"Total consumption","value":-3.6},
      {"date":"2020-07-20T14:00Z","series":"Total consumption","value":-4.4},
      {"date":"2020-07-21T17:00Z","series":"Total consumption","value":-3.7},
      {"date":"2020-07-22T19:00Z","series":"Total consumption","value":-3.7},
      {"date":"2020-07-24T12:00Z","series":"Total consumption","value":-4.0},
      {"date":"2020-07-26T12:00Z","series":"Total consumption","value":-3.7},
      {"date":"2020-07-28T05:00Z","series":"Total consumption","value":-3.5},
      {"date":"2020-07-29T19:00Z","series":"Total consumption","value":-3.0},
      {"date":"2020-07-31T17:00Z","series":"Total consumption","value":-2.1},
      {"date":"2020-08-02T10:00Z","series":"Total consumption","value":-1.1},
      {"date":"2020-08-03T12:00Z","series":"Total consumption","value":-1.3},
      {"date":"2020-08-05T05:00Z","series":"Total consumption","value":-2.5},
      {"date":"2020-08-06T22:00Z","series":"Total consumption","value":-3.0},
      {"date":"2020-08-08T12:00Z","series":"Total consumption","value":-2.6},
      {"date":"2020-08-10T05:00Z","series":"Total consumption","value":-1.6},
      {"date":"2020-08-11T22:00Z","series":"Total consumption","value":-0.7},
      {"date":"2020-08-13T05:00Z","series":"Total consumption","value":-0.45},
      {"date":"2020-08-14T02:00Z","series":"Total consumption","value":-0.45},
      {"date":"2020-08-15T05:00Z","series":"Total consumption","value":0.6},
      {"date":"2020-08-16T14:00Z","series":"Total consumption","value":0.1},
      {"date":"2020-08-18T00:00Z","series":"Total consumption","value":-0.7},
      {"date":"2020-08-19T17:00Z","series":"Total consumption","value":-1.1},
      {"date":"2020-08-21T10:00Z","series":"Total consumption","value":-1.5},
      {"date":"2020-08-22T12:00Z","series":"Total consumption","value":-2.3},
      {"date":"2020-08-23T07:00Z","series":"Total consumption","value":-3.2},
      {"date":"2020-08-24T17:00Z","series":"Total consumption","value":-3.0},
      {"date":"2020-08-25T19:00Z","series":"Total consumption","value":-2.9},
      {"date":"2020-08-27T12:00Z","series":"Total consumption","value":-2.8},
      {"date":"2020-08-28T10:00Z","series":"Total consumption","value":-2.9},
      {"date":"2020-08-29T10:00Z","series":"Total consumption","value":-4.6},
      {"date":"2020-08-30T07:00Z","series":"Total consumption","value":-5.6},
      {"date":"2020-08-31T10:00Z","series":"Total consumption","value":-6.1},
      {"date":"2020-09-01T12:00Z","series":"Total consumption","value":-6.0},
      {"date":"2020-09-02T14:00Z","series":"Total consumption","value":-5.8},
      {"date":"2020-09-04T07:00Z","series":"Total consumption","value":-6.0},
      {"date":"2020-03-01T05:00Z","series":"Firm's total consumption","value":-0.5},
      {"date":"2020-03-03T19:00Z","series":"Firm's total consumption","value":-1.3},
      {"date":"2020-03-06T00:00Z","series":"Firm's total consumption","value":-2.25},
      {"date":"2020-03-08T19:00Z","series":"Firm's total consumption","value":-2.7},
      {"date":"2020-03-11T00:00Z","series":"Firm's total consumption","value":-3.0},
      {"date":"2020-03-13T07:00Z","series":"Firm's total consumption","value":-2.9},
      {"date":"2020-03-14T22:00Z","series":"Firm's total consumption","value":-3.7},
      {"date":"2020-03-16T14:00Z","series":"Firm's total consumption","value":-5.9},
      {"date":"2020-03-17T17:00Z","series":"Firm's total consumption","value":-8.7},
      {"date":"2020-03-18T19:00Z","series":"Firm's total consumption","value":-11.9},
      {"date":"2020-03-20T00:00Z","series":"Firm's total consumption","value":-15.1},
      {"date":"2020-03-21T02:00Z","series":"Firm's total consumption","value":-18.2},
      {"date":"2020-03-22T10:00Z","series":"Firm's total consumption","value":-21.1},
      {"date":"2020-03-23T12:00Z","series":"Firm's total consumption","value":-23.3},
      {"date":"2020-03-25T00:00Z","series":"Firm's total consumption","value":-24.9},
      {"date":"2020-03-26T22:00Z","series":"Firm's total consumption","value":-26.0},
      {"date":"2020-03-28T14:00Z","series":"Firm's total consumption","value":-26.5},
      {"date":"2020-03-30T12:00Z","series":"Firm's total consumption","value":-26.8},
      {"date":"2020-04-01T05:00Z","series":"Firm's total consumption","value":-26.3},
      {"date":"2020-04-02T22:00Z","series":"Firm's total consumption","value":-25.5},
      {"date":"2020-04-05T02:00Z","series":"Firm's total consumption","value":-24.7},
      {"date":"2020-04-07T07:00Z","series":"Firm's total consumption","value":-23.8},
      {"date":"2020-04-09T14:00Z","series":"Firm's total consumption","value":-23.1},
      {"date":"2020-04-11T19:00Z","series":"Firm's total consumption","value":-23.0},
      {"date":"2020-04-12T22:00Z","series":"Firm's total consumption","value":-21.1},
      {"date":"2020-04-15T05:00Z","series":"Firm's total consumption","value":-20.8},
      {"date":"2020-04-17T10:00Z","series":"Firm's total consumption","value":-20.3},
      {"date":"2020-04-18T12:00Z","series":"Firm's total consumption","value":-19.8},
      {"date":"2020-04-20T05:00Z","series":"Firm's total consumption","value":-20.8},
      {"date":"2020-04-21T12:00Z","series":"Firm's total consumption","value":-20.4},
      {"date":"2020-04-23T07:00Z","series":"Firm's total consumption","value":-19.5},
      {"date":"2020-04-25T05:00Z","series":"Firm's total consumption","value":-19.0},
      {"date":"2020-04-27T10:00Z","series":"Firm's total consumption","value":-18.5},
      {"date":"2020-04-29T02:00Z","series":"Firm's total consumption","value":-18.2},
      {"date":"2020-04-30T19:00Z","series":"Firm's total consumption","value":-17.8},
      {"date":"2020-05-01T22:00Z","series":"Firm's total consumption","value":-16.0},
      {"date":"2020-05-03T14:00Z","series":"Firm's total consumption","value":-14.9},
      {"date":"2020-05-05T05:00Z","series":"Firm's total consumption","value":-14.0},
      {"date":"2020-05-07T02:00Z","series":"Firm's total consumption","value":-13.2},
      {"date":"2020-05-09T02:00Z","series":"Firm's total consumption","value":-13.6},
      {"date":"2020-05-11T07:00Z","series":"Firm's total consumption","value":-14.1},
      {"date":"2020-05-13T14:00Z","series":"Firm's total consumption","value":-13.4},
      {"date":"2020-05-15T14:00Z","series":"Firm's total consumption","value":-13.0},
      {"date":"2020-05-17T12:00Z","series":"Firm's total consumption","value":-12.8},
      {"date":"2020-05-19T17:00Z","series":"Firm's total consumption","value":-12.2},
      {"date":"2020-05-21T22:00Z","series":"Firm's total consumption","value":-11.5},
      {"date":"2020-05-23T14:00Z","series":"Firm's total consumption","value":-11.9},
      {"date":"2020-05-25T19:00Z","series":"Firm's total consumption","value":-11.6},
      {"date":"2020-05-28T07:00Z","series":"Firm's total consumption","value":-11.3},
      {"date":"2020-05-30T07:00Z","series":"Firm's total consumption","value":-11.6},
      {"date":"2020-06-01T00:00Z","series":"Firm's total consumption","value":-10.6},
      {"date":"2020-06-02T14:00Z","series":"Firm's total consumption","value":-9.8},
      {"date":"2020-06-04T22:00Z","series":"Firm's total consumption","value":-9.4},
      {"date":"2020-06-06T22:00Z","series":"Firm's total consumption","value":-9.6},
      {"date":"2020-06-08T05:00Z","series":"Firm's total consumption","value":-10.3},
      {"date":"2020-06-09T07:00Z","series":"Firm's total consumption","value":-10.5},
      {"date":"2020-06-11T14:00Z","series":"Firm's total consumption","value":-10.3},
      {"date":"2020-06-13T19:00Z","series":"Firm's total consumption","value":-9.7},
      {"date":"2020-06-16T00:00Z","series":"Firm's total consumption","value":-8.7},
      {"date":"2020-06-18T19:00Z","series":"Firm's total consumption","value":-8.3},
      {"date":"2020-06-21T14:00Z","series":"Firm's total consumption","value":-8.4},
      {"date":"2020-06-24T10:00Z","series":"Firm's total consumption","value":-8.4},
      {"date":"2020-06-27T05:00Z","series":"Firm's total consumption","value":-8.5},
      {"date":"2020-06-30T07:00Z","series":"Firm's total consumption","value":-8.5},
      {"date":"2020-07-02T05:00Z","series":"Firm's total consumption","value":-7.9},
      {"date":"2020-07-04T19:00Z","series":"Firm's total consumption","value":-7.3},
      {"date":"2020-07-07T05:00Z","series":"Firm's total consumption","value":-7.0},
      {"date":"2020-07-09T10:00Z","series":"Firm's total consumption","value":-6.5},
      {"date":"2020-07-11T17:00Z","series":"Firm's total consumption","value":-6.0},
      {"date":"2020-07-13T07:00Z","series":"Firm's total consumption","value":-5.1},
      {"date":"2020-07-14T12:00Z","series":"Firm's total consumption","value":-6.4},
      {"date":"2020-07-15T14:00Z","series":"Firm's total consumption","value":-7.2},
      {"date":"2020-07-17T07:00Z","series":"Firm's total consumption","value":-7.4},
      {"date":"2020-07-19T12:00Z","series":"Firm's total consumption","value":-7.3},
      {"date":"2020-07-20T14:00Z","series":"Firm's total consumption","value":-8.1},
      {"date":"2020-07-21T12:00Z","series":"Firm's total consumption","value":-5.9},
      {"date":"2020-07-22T19:00Z","series":"Firm's total consumption","value":-6.2},
      {"date":"2020-07-25T00:00Z","series":"Firm's total consumption","value":-6.7},
      {"date":"2020-07-27T07:00Z","series":"Firm's total consumption","value":-6.8},
      {"date":"2020-07-28T22:00Z","series":"Firm's total consumption","value":-6.5},
      {"date":"2020-07-30T14:00Z","series":"Firm's total consumption","value":-5.3},
      {"date":"2020-08-01T07:00Z","series":"Firm's total consumption","value":-3.8},
      {"date":"2020-08-03T00:00Z","series":"Firm's total consumption","value":-4.0},
      {"date":"2020-08-04T14:00Z","series":"Firm's total consumption","value":-5.1},
      {"date":"2020-08-06T22:00Z","series":"Firm's total consumption","value":-6.0},
      {"date":"2020-08-09T02:00Z","series":"Firm's total consumption","value":-5.1},
      {"date":"2020-08-11T07:00Z","series":"Firm's total consumption","value":-4.3},
      {"date":"2020-08-13T00:00Z","series":"Firm's total consumption","value":-3.7},
      {"date":"2020-08-14T17:00Z","series":"Firm's total consumption","value":-1.1},
      {"date":"2020-08-15T12:00Z","series":"Firm's total consumption","value":-0.5},
      {"date":"2020-08-16T22:00Z","series":"Firm's total consumption","value":-1.1},
      {"date":"2020-08-18T14:00Z","series":"Firm's total consumption","value":-1.0},
      {"date":"2020-08-20T07:00Z","series":"Firm's total consumption","value":-1.1},
      {"date":"2020-08-21T17:00Z","series":"Firm's total consumption","value":-1.8},
      {"date":"2020-08-23T02:00Z","series":"Firm's total consumption","value":-3.7},
      {"date":"2020-08-24T17:00Z","series":"Firm's total consumption","value":-3.8},
      {"date":"2020-08-25T19:00Z","series":"Firm's total consumption","value":-2.9},
      {"date":"2020-08-27T12:00Z","series":"Firm's total consumption","value":-1.9},
      {"date":"2020-08-29T05:00Z","series":"Firm's total consumption","value":-2.7},
      {"date":"2020-08-30T19:00Z","series":"Firm's total consumption","value":-3.7},
      {"date":"2020-09-01T12:00Z","series":"Firm's total consumption","value":-3.8},
      {"date":"2020-09-02T22:00Z","series":"Firm's total consumption","value":-3.7}
    ],
    "lockdown": [
      {"event":"lockdown","start":"2020-03-17T10:00Z","end":"2020-05-12T00:00Z"}
    ]
  },
  "hconcat": [
    {
      "width": 342.5,
      "height": 321.5,
      "title": {"text": "a. Total consumption and temperatures", "offset": 17, "dx": 3, "fontSize": 26},
      "data": {"name": "scatter"},
      "mark": {"type": "point", "shape": "square", "filled": true, "size": 9, "color": "#0000ff", "opacity": 1, "strokeWidth": 0},
      "encoding": {
        "x": {"field": "temp", "type": "quantitative", "scale": {"domain": [-5, 30], "nice": false, "zero": false},
          "axis": {"title": "Temperatures", "values": [-5, 0, 5, 10, 15, 20, 25, 30], "labelExpr": "'' + datum.value", "tickSize": 5, "labelPadding": 3, "titlePadding": 23,
            "gridOpacity": {"condition": {"test": "datum.value == -5 || datum.value == 30", "value": 0}, "value": 1}}},
        "y": {"field": "gw", "type": "quantitative", "scale": {"domain": [800, 2400], "nice": false, "zero": false},
          "axis": {"title": "Total consumption (GW)", "values": [800, 1000, 1200, 1400, 1600, 1800, 2000, 2200, 2400], "format": ",d", "tickSize": 6, "labelPadding": 5, "titlePadding": 24,
            "gridOpacity": {"condition": {"test": "datum.value == 800 || datum.value == 2400", "value": 0}, "value": 1}}}
      }
    },
    {
      "width": 562,
      "height": 335.5,
      "title": {"text": "b. Deviation from the historical average (%)", "offset": 21, "dx": 10, "fontSize": 25.2},
      "layer": [
        {
          "data": {"name": "lockdown"},
          "mark": {"type": "rect", "color": "#000000", "opacity": 0.09},
          "encoding": {
            "x": {"field": "start", "type": "temporal", "scale": {"type": "utc", "domain": [{"year": 2020, "month": 3, "date": 1, "utc": true}, {"year": 2020, "month": 9, "date": 5, "utc": true}]}, "axis": {"title": null}},
            "x2": {"field": "end"}
          }
        },
        {
          "data": {"name": "lockdown"},
          "mark": {"type": "rect", "color": "#e8e8e8"},
          "encoding": {
            "x": {"datum": {"year": 2020, "month": 3, "date": 30, "hours": 2, "utc": true}, "type": "temporal"},
            "x2": {"datum": {"year": 2020, "month": 4, "date": 23, "hours": 5, "utc": true}},
            "y": {"datum": 3.32, "type": "quantitative", "axis": null},
            "y2": {"datum": 1.52}
          }
        },
        {
          "data": {"name": "lockdown"},
          "mark": {"type": "text", "font": "Liberation Sans", "fontSize": 15, "color": "#333333", "align": "center", "baseline": "middle"},
          "encoding": {
            "x": {"datum": {"year": 2020, "month": 4, "date": 11, "hours": 2, "utc": true}, "type": "temporal"},
            "y": {"datum": 2.47, "type": "quantitative", "axis": null},
            "text": {"field": "event"}
          }
        },
        {
          "data": {"values": [{}]},
          "mark": {"type": "rule", "color": "#555555", "strokeWidth": 1.5},
          "encoding": {
            "y": {"datum": 0, "type": "quantitative", "scale": {"domain": [-28, 4], "nice": false, "zero": false},
              "axis": {"orient": "right", "title": null, "values": [-28, -24, -20, -16, -12, -8, -4, 0, 4], "labelExpr": "'' + datum.value", "tickSize": 7, "labelPadding": 4, "grid": false}}
          }
        },
        {
          "data": {"name": "lines"},
          "mark": {"type": "line", "strokeWidth": 3, "interpolate": "linear"},
          "encoding": {
            "x": {"field": "date", "type": "temporal", "scale": {"type": "utc", "domain": [{"year": 2020, "month": 3, "date": 1, "utc": true}, {"year": 2020, "month": 9, "date": 5, "utc": true}]},
              "axis": {"title": null, "values": [{"year": 2020, "month": 3, "date": 1, "utc": true}, {"year": 2020, "month": 4, "date": 1, "utc": true}, {"year": 2020, "month": 5, "date": 1, "utc": true}, {"year": 2020, "month": 6, "date": 1, "utc": true}, {"year": 2020, "month": 7, "date": 1, "utc": true}, {"year": 2020, "month": 8, "date": 1, "utc": true}, {"year": 2020, "month": 9, "date": 1, "utc": true}],
                "labelExpr": "utcmonth(datum.value) == 8 ? '' : '2020m' + (utcmonth(datum.value) + 1)", "labelOffset": 46, "labelAlign": "center", "tickSize": 7, "labelPadding": 2,
                "gridOpacity": {"condition": {"test": "utcmonth(datum.value) == 2", "value": 0}, "value": 1}}},
            "y": {"field": "value", "type": "quantitative", "scale": {"domain": [-28, 4], "nice": false, "zero": false},
              "axis": {"orient": "left", "title": null, "values": [-28, -24, -20, -16, -12, -8, -4, 0, 4], "labelExpr": "'' + datum.value", "tickSize": 7, "labelPadding": 6,
                "gridOpacity": {"condition": {"test": "datum.value == 4 || datum.value == 0 || datum.value == -28", "value": 0}, "value": 1}}},
            "color": {"field": "series", "type": "nominal", "scale": {"domain": ["Total consumption", "Firm's total consumption"], "range": ["#000000", "#ff5a5a"]},
              "legend": {"title": null, "orient": "none", "legendX": 789, "legendY": 260, "fillColor": "white", "padding": 6, "symbolType": "M-1.65,0H1.65", "symbolStrokeWidth": 3, "symbolSize": 400, "labelOffset": 12, "rowPadding": 0}},
            "strokeDash": {"field": "series", "type": "nominal", "scale": {"domain": ["Total consumption", "Firm's total consumption"], "range": [[1, 0], [7, 4]]},
              "legend": {"title": null, "orient": "none", "legendX": 789, "legendY": 260, "fillColor": "white", "padding": 6, "symbolType": "M-1.65,0H1.65", "symbolStrokeWidth": 3, "symbolSize": 400, "labelOffset": 12, "rowPadding": 0}}
          }
        }
      ],
      "resolve": {"axis": {"y": "independent"}}
    }
  ]
}
